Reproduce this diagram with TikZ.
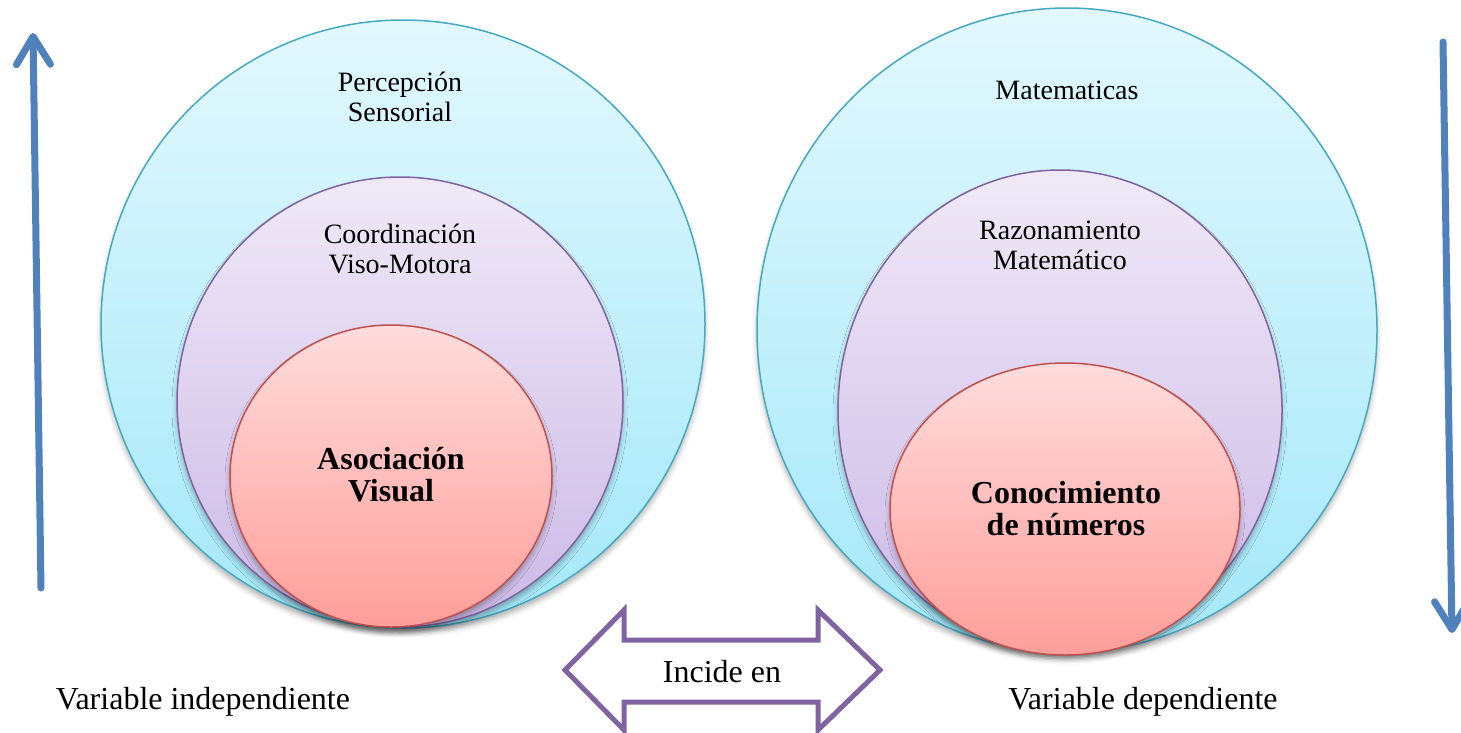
\documentclass[tikz,border=0pt]{standalone}
\usepackage{fontspec}
\setmainfont{Liberation Serif}
\usepackage{tikz}
\usetikzlibrary{%
   arrows.meta,%
   positioning,%
   shapes.geometric,%
   shadows.blur}

\definecolor{cyanTop}{HTML}{E2F8FD}
\definecolor{cyanBot}{HTML}{A4E8FA}
\definecolor{cyanLine}{HTML}{45A9C4}
\definecolor{lilaTop}{HTML}{EFE9F7}
\definecolor{lilaBot}{HTML}{CCB9E6}
\definecolor{lilaLine}{HTML}{8064A2}
\definecolor{roseTop}{HTML}{FFDCDC}
\definecolor{roseBot}{HTML}{FF9E9A}
\definecolor{roseLine}{HTML}{C0504D}
\definecolor{arrowBlue}{HTML}{4F81BD}

\begin{document}
\begin{tikzpicture}[x=1pt,y=-1pt,
	lbl/.style={align=center,font=\fontsize{28}{30}\selectfont},
	bold/.style={align=center,font=\fontsize{32}{32}\selectfont\bfseries},
	big/.style={font=\fontsize{32}{34}\selectfont},
	circ/.style={ellipse,inner sep=0pt,line width=1.5pt,
		blur shadow={shadow xshift=0pt,shadow yshift=-5pt,shadow blur radius=5pt,shadow opacity=30}},
	outer/.style={circ,draw=cyanLine,top color=cyanTop,bottom color=cyanBot},
	middle/.style={circ,draw=lilaLine,top color=lilaTop,bottom color=lilaBot},
	inner/.style={circ,draw=roseLine,top color=roseTop,bottom color=roseBot},
	varrow/.style={line width=7pt,draw=arrowBlue,line cap=round,
		-{Straight Barb[length=28pt,width=34pt,line cap=round,line join=round]}},
	darrow/.style={draw=lilaLine,line width=5pt,fill=white,line join=miter}]
	\useasboundingbox (0,0) rectangle (1461,732);

	% left side: independent variable
	\node[outer,minimum width=604pt,minimum height=608pt] (out_l) at (403,324) {};
	\node[middle,minimum width=446pt,minimum height=450pt] (mid_l) at (400,402) {};
	\node[inner,minimum width=322pt,minimum height=302pt] (in_l) at (391,476) {};
	\node[lbl] (per) at (400,97) {Percepción\\Sensorial};
	\node[lbl] (coo) at (400,249) {Coordinación\\Viso-Motora};
	\node[bold] (aso) at (391,475) {Asociación\\Visual};

	% right side: dependent variable
	\node[outer,minimum width=620pt,minimum height=644pt] (out_r) at (1067,330) {};
	\node[middle,minimum width=444pt,minimum height=480pt] (mid_r) at (1060,410) {};
	\node[inner,minimum width=350pt,minimum height=292pt] (in_r) at (1065,509) {};
	\node[lbl] (mat) at (1067,90) {Matematicas};
	\node[lbl] (raz) at (1060,245) {Razonamiento\\Matemático};
	\node[bold] (con) at (1066,509) {Conocimiento\\de números};

	% vertical arrows
	\coordinate (up_0) at (41,588);
	\coordinate (up_1) at (33,33);
	\coordinate (dn_0) at (1443,42);
	\coordinate (dn_1) at (1452,633);
	\draw[varrow] (up_0) -- (up_1);
	\draw[varrow] (dn_0) -- (dn_1);

	% double arrow between both sides
	\draw[darrow] (565,670) -- (624,610) -- (624,640) -- (818,640) -- (818,610)
		-- (880,670) -- (818,730) -- (818,702) -- (624,702) -- (624,730) -- cycle;
	\node[big] (inc) at (722,672) {Incide en};
	\node[big] (ind) at (203,702) {Variable independiente};
	\node[big] (dep) at (1143,702) {Variable dependiente};
\end{tikzpicture}
\end{document}
